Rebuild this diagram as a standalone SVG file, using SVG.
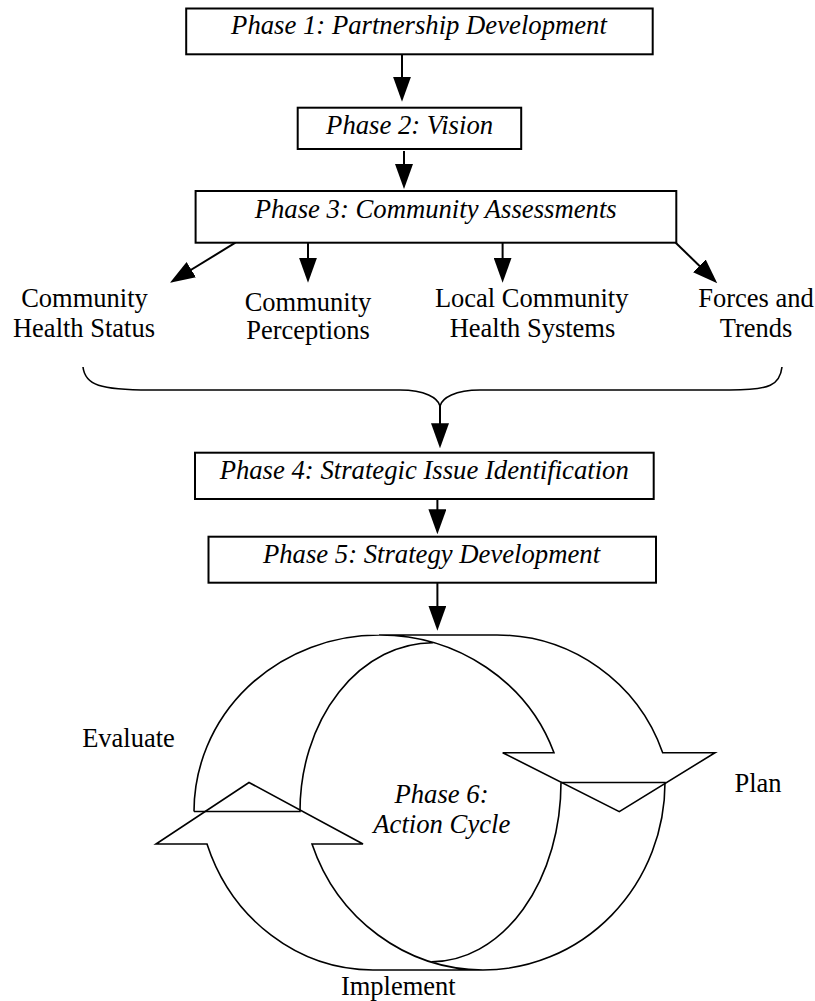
<svg xmlns="http://www.w3.org/2000/svg" width="815" height="1001" viewBox="0 0 815 1001">
<defs>
<style>
.box{fill:#fff;stroke:#000;stroke-width:2}
.conn{fill:none;stroke:#000;stroke-width:2;marker-end:url(#ah)}
.brace{fill:none;stroke:#000;stroke-width:1.6}
.cyc{fill:none;stroke:#000;stroke-width:1.6;stroke-linejoin:miter}
.it{font-family:"Liberation Serif","Times New Roman",serif;font-style:italic;font-size:26.7px;text-anchor:middle;fill:#000}
.tx{font-family:"Liberation Serif","Times New Roman",serif;font-size:26.5px;text-anchor:middle;fill:#000}
</style>
<marker id="ah" viewBox="0 0 25 18" refX="15" refY="9" markerWidth="25" markerHeight="18" markerUnits="userSpaceOnUse" orient="auto">
<path d="M0,0 L25,9 L0,18 Z" fill="#000"/>
</marker>
</defs>
<rect x="0" y="0" width="815" height="1001" fill="#fff"/>

<g id="connectors">
<line class="conn" x1="402" y1="54.3" x2="402" y2="91.7"/>
<line class="conn" x1="404" y1="151" x2="404" y2="179"/>
<line class="conn" x1="235.4" y1="242.7" x2="178.5" y2="277.5"/>
<line class="conn" x1="308" y1="242.7" x2="308" y2="272.7"/>
<line class="conn" x1="502.6" y1="242.7" x2="502.6" y2="272.7"/>
<line class="conn" x1="675.7" y1="242.7" x2="710.1" y2="276.3"/>
<path class="brace" d="M83,367 C85,385 100,390 150,390 L400,390 C425,390 438,398 440,406 C442,398 455,390 480,390 L730,390 C770,390 780,385 782,367"/>
<line class="conn" x1="440" y1="406" x2="440" y2="438.3"/>
<line class="conn" x1="437.4" y1="499" x2="437.4" y2="524.3"/>
<line class="conn" x1="437.4" y1="582.7" x2="437.4" y2="620.7"/>
</g>

<g id="phase1">
<rect class="box" x="186.2" y="8.5" width="466.5" height="45.8"/>
<text class="it" x="419" y="34.3">Phase 1: Partnership Development</text>
</g>
<g id="phase2">
<rect class="box" x="297.7" y="107.7" width="223.5" height="41.3"/>
<text class="it" x="409.6" y="134.3">Phase 2: Vision</text>
</g>
<g id="phase3">
<rect class="box" x="195.6" y="191" width="480.7" height="51.7"/>
<text class="it" x="435.7" y="217.7">Phase 3: Community Assessments</text>
</g>
<g id="health-status">
<text class="tx" x="84.5" y="307.3">Community</text>
<text class="tx" x="84" y="337.3">Health Status</text>
</g>
<g id="perceptions">
<text class="tx" x="308" y="310.7">Community</text>
<text class="tx" x="308" y="339">Perceptions</text>
</g>
<g id="systems">
<text class="tx" x="531.7" y="307.3">Local Community</text>
<text class="tx" x="532.5" y="337.3">Health Systems</text>
</g>
<g id="forces">
<text class="tx" x="756" y="307.3">Forces and</text>
<text class="tx" x="756" y="337.3">Trends</text>
</g>
<g id="phase4">
<rect class="box" x="195" y="452.7" width="458.7" height="46.3"/>
<text class="it" x="424.2" y="479.3">Phase 4: Strategic Issue Identification</text>
</g>
<g id="phase5">
<rect class="box" x="208.5" y="536.7" width="447.5" height="46"/>
<text class="it" x="431.5" y="563.3">Phase 5: Strategy Development</text>
</g>

<g id="phase6">
<path id="plan-arrow" class="cyc" d="M194,811.5 A185,176.5 0 0 1 379,635 L497,635 A175.7,176.5 0 0 1 662.7,752.7 L715,752.7 L619.3,811.7 L502.7,752.7 L554,752.7 A185,176.5 0 0 0 379,635 M194,811.5 L300,811.5 A133,168.5 0 0 1 433,642.7"/>
<path id="evaluate-arrow" class="cyc" d="M561,782.5 L665,782.5 A182,187.5 0 0 1 483,970 L373,970 A176,187.5 0 0 1 207,844 L156,844 L249,782.5 L363,844 L312,844 A182,187.5 0 0 0 483,970 M561,782.5 A129.3,179.2 0 0 1 431.7,961.7"/>
<text class="it" x="441.5" y="802.7">Phase 6:</text>
<text class="it" x="441.8" y="833">Action Cycle</text>
</g>
<g id="evaluate"><text class="tx" x="128.5" y="747">Evaluate</text></g>
<g id="plan"><text class="tx" x="758" y="791.7">Plan</text></g>
<g id="implement"><text class="tx" x="398.3" y="995">Implement</text></g>
</svg>
